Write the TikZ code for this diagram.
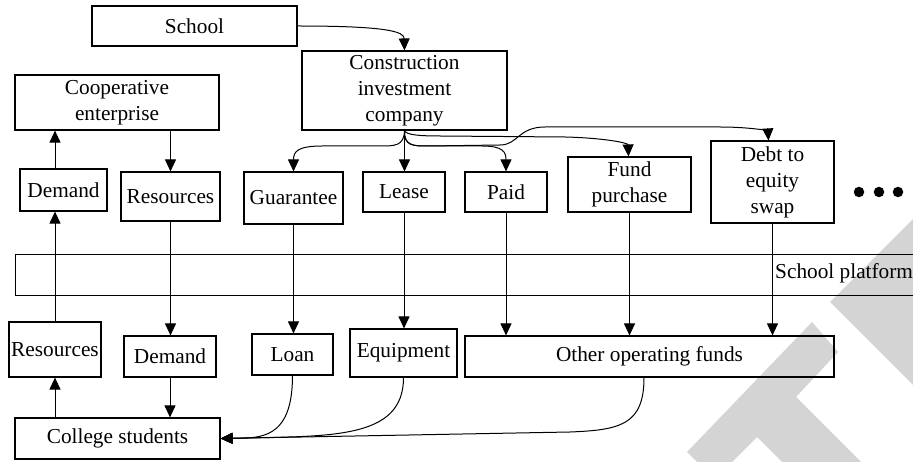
\documentclass[tikz,border=0pt]{standalone}
\usepackage{fontspec}
\setmainfont{Liberation Serif}
\usetikzlibrary{arrows.meta}
\begin{document}
\begin{tikzpicture}[x=1pt,y=-1pt,
  box/.style={draw, line width=1.15pt, inner sep=0pt, align=center, font=\fontsize{21.3}{26}\selectfont},
  lbl/.style={inner sep=0pt, font=\fontsize{21.3}{26}\selectfont},
  arr/.style={line width=1pt, -{Triangle[length=12pt,width=11pt]}},
  wm/.style={fill=black!17, draw=none},
  dot/.style={circle, fill=black, inner sep=0pt, minimum size=10.5pt}]
\useasboundingbox (0,0) rectangle (913,462);
% watermark
\fill[wm] (830,302) -- (913,219) -- (913,385) -- cycle;
\fill[wm] (687,452) -- (812,322) -- (838,352) -- (796,397) -- (861,462) -- (782,462) -- (757,437) -- (732,462) -- (697,462) -- cycle;
% nodes
\node[box, minimum width=205pt, minimum height=40pt] (school) at (194.5,26) {School};
\node[box, minimum width=205pt, minimum height=79pt] (cic) at (404.5,90.5) {Construction\\investment\\company};
\node[box, minimum width=204pt, minimum height=55pt] (coop) at (117,102.5) {Cooperative\\enterprise};
\node[box, minimum width=87pt, minimum height=42pt] (demU) at (63.5,190) {Demand};
\node[box, minimum width=99pt, minimum height=49pt] (resU) at (170.5,196.5) {Resources};
\node[box, minimum width=99pt, minimum height=52pt] (guar) at (293.5,198) {Guarantee};
\node[box, minimum width=82pt, minimum height=40pt] (lease) at (404,192) {Lease};
\node[box, minimum width=82pt, minimum height=40pt] (paid) at (506,192) {Paid};
\node[box, minimum width=123pt, minimum height=55pt] (fund) at (629.5,184.5) {Fund\\purchase};
\node[box, minimum width=123pt, minimum height=82pt] (debt) at (772.5,182) {Debt to\\equity\\swap};
\node[dot] (d1) at (859,192) {};
\node[dot] (d2) at (879,192) {};
\node[dot] (d3) at (898,192) {};
% platform band
\node[draw, line width=1.15pt, inner sep=0pt, minimum width=930pt, minimum height=41pt, anchor=north west] (band) at (15,254) {};
\node[lbl, anchor=west] (plat) at (775,273) {School platform};
% bottom row
\node[box, minimum width=92pt, minimum height=55pt] (resL) at (55,349.5) {Resources};
\node[box, minimum width=92pt, minimum height=41pt] (demL) at (170,356.5) {Demand};
\node[box, minimum width=81pt, minimum height=41pt] (loan) at (292.5,354.5) {Loan};
\node[box, minimum width=107pt, minimum height=48pt] (equip) at (403.5,353) {Equipment};
\node[box, minimum width=369pt, minimum height=41pt] (other) at (649.5,356.5) {Other operating funds};
\node[box, minimum width=205pt, minimum height=41pt] (coll) at (117.5,438.5) {College students};
% top connectors
\draw[arr] (school.east) .. controls (390,26) and (404,32) .. (cic.north);
\draw[arr] (cic.south) -- (cic.south |- lease.north);
\draw[arr] (cic.south) .. controls (404,146) and (395,146) .. (380,146) -- (322,146) .. controls (297,146) and (293.5,152) .. (guar.north);
\draw[arr] (cic.south) .. controls (404,146) and (413,146) .. (428,146) -- (482,146) .. controls (503,146) and (506,152) .. (paid.north);
\draw[arr] (cic.south) .. controls (406,135) and (420,136) .. (440,136) -- (565,137) .. controls (605,138) and (628,143) .. ([xshift=-1pt]fund.north);
\draw[arr] (cic.south) .. controls (404,146) and (413,146) .. (428,146) -- (500,145) .. controls (518,145) and (518,127) .. (545,127) -- (720,127) .. controls (755,127) and (768,132) .. ([xshift=-4pt]debt.north);
% verticals
\draw[arr] (guar.south) -- (guar.south |- loan.north);
\draw[arr] (lease.south) -- (lease.south |- equip.north);
\draw[arr] (paid.south) -- (paid.south |- other.north);
\draw[arr] (fund.south) -- (fund.south |- other.north);
\draw[arr] (debt.south) -- (debt.south |- other.north);
\draw[arr] (coop.south -| resU.north) -- (resU.north);
\draw[arr] (resU.south) -- (resU.south |- demL.north);
\draw[arr] (demL.south) -- (demL.south |- coll.north);
\draw[arr] (coll.north -| resL.south) -- (resL.south);
\draw[arr] (resL.north) -- (resL.north |- demU.south);
\draw[arr] (demU.north -| resL.north) -- (resL.north |- coop.south);
% bottom curves
\draw[arr] (loan.south) .. controls (292.5,440) and (260,438) .. (coll.east);
\draw[arr] (equip.south) .. controls (403.5,440) and (330,436) .. (coll.east);
\draw[arr] ([xshift=-5.5pt]other.south) .. controls (644,425) and (620,430) .. (570,432) -- (coll.east);
\end{tikzpicture}
\end{document}
